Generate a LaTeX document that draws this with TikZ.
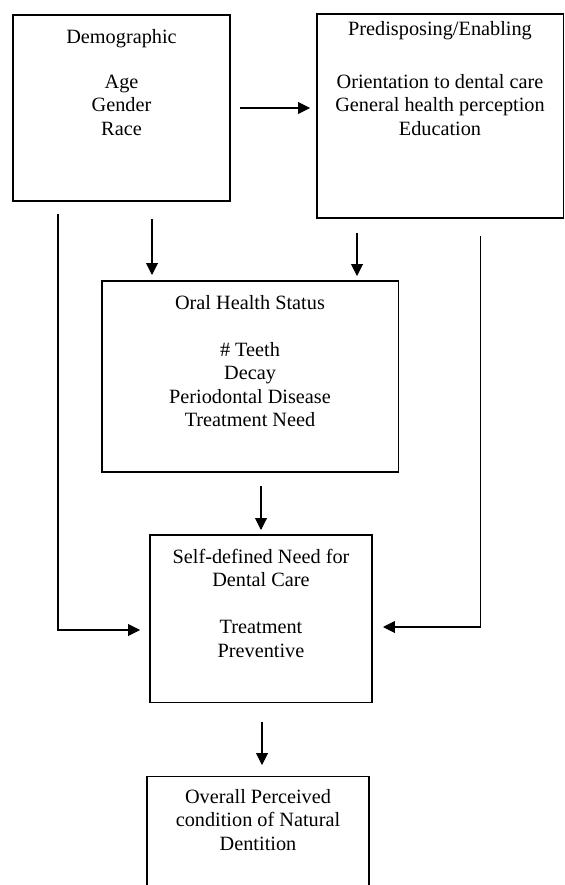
\documentclass[tikz,border=0pt]{standalone}
\usepackage{fontspec}
\setmainfont{Liberation Serif}
\usetikzlibrary{arrows.meta,positioning,calc}
\newcommand{\pxu}{0.5917pt}

\begin{document}
\begin{tikzpicture}[
  x=0.5917pt, y=-0.5917pt,
  box/.style={draw=black, line width=0.6pt, inner sep=0pt, outer sep=0pt},
  boxtext/.style={anchor=north, inner sep=0pt, align=center, font=\fontsize{12}{13.8}\selectfont},
  arrow/.style={-{Triangle[length=7pt,width=7pt]}, line width=0.6pt, draw=black}
]
\useasboundingbox (0,0) rectangle (565,885);
\clip (0,0) rectangle (565,885);
\node[box, minimum width=217*\pxu, minimum height=186*\pxu] (demo) at (121.5,108) {};
\node[box, minimum width=246*\pxu, minimum height=204*\pxu] (pred) at (440,116) {};
\node[box, minimum width=296*\pxu, minimum height=191*\pxu] (oral) at (250,376.5) {};
\node[box, minimum width=222*\pxu, minimum height=167*\pxu] (self) at (261,618.5) {};
\node[box, minimum width=222*\pxu, minimum height=140*\pxu] (overall) at (258,846) {};
\node[boxtext] (demotxt) at ($(demo.north)+(0,14)$) {Demographic\\[12.8pt]Age\\Gender\\Race};
\node[boxtext] (predtxt) at ($(pred.north)+(0,7)$) {Predisposing/Enabling\\[17.6pt]Orientation to dental care\\General health perception\\Education};
\node[boxtext] (oraltxt) at ($(oral.north)+(0,14)$) {Oral Health Status\\[14pt]\# Teeth\\Decay\\Periodontal Disease\\Treatment Need};
\node[boxtext] (selftxt) at ($(self.north)+(0,14)$) {Self-defined Need for\\Dental Care\\[14pt]Treatment\\Preventive};
\node[boxtext] (overalltxt) at ($(overall.north)+(0,13)$) {Overall Perceived\\condition of Natural\\Dentition};
\draw[arrow] ($(demo.east)+(10,0)$) -- ($(pred.west|-demo.east)+(-7,0)$);
\draw[arrow] ($(demo.south)+(30.5,18)$) -- ($(oral.north)+(-98,-6)$);
\draw[arrow] ($(pred.south)+(-83,15)$) -- ($(oral.north)+(107,-5)$);
\draw[arrow] ($(demo.south)+(-63.5,13)$) |- ($(self.west)+(-10,11.5)$);
\draw[arrow] ($(pred.south)+(40,18)$) |- ($(self.east)+(11,8.5)$);
\draw[arrow] ($(oral.south)+(11,14)$) -- ($(self.north)+(0,-5)$);
\draw[arrow] ($(self.south)+(1,20)$) -- ($(overall.north)+(4,-11)$);
\end{tikzpicture}
\end{document}
